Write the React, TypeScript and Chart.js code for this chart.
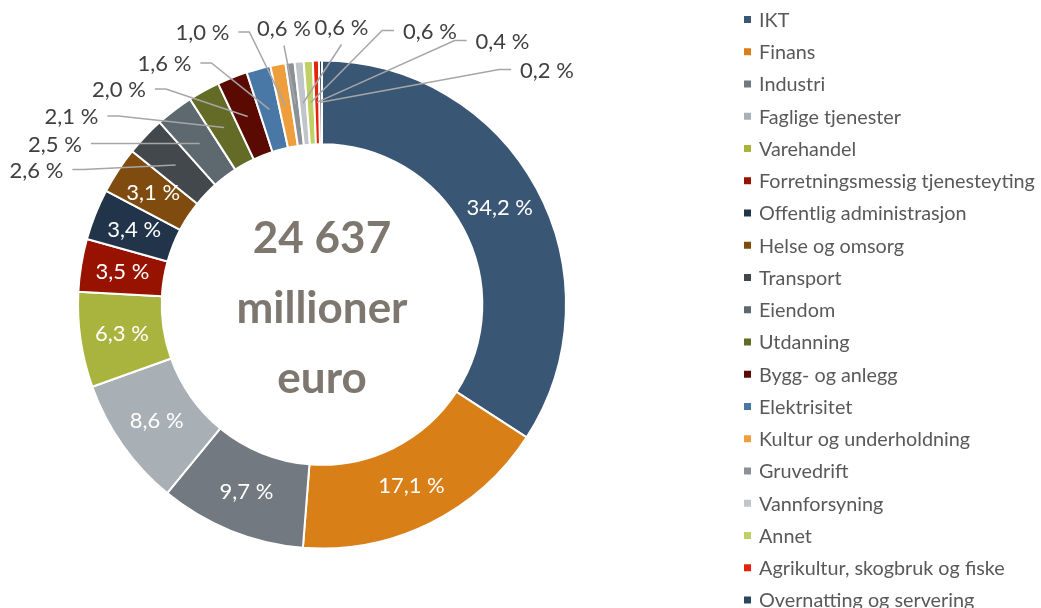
import React, { useEffect, useRef } from 'react';
import { Chart, registerables } from 'chart.js';

Chart.register(...registerables);

// ---- data ----
const categories = [
  'IKT',
  'Finans',
  'Industri',
  'Faglige tjenester',
  'Varehandel',
  'Forretningsmessig tjenesteyting',
  'Offentlig administrasjon',
  'Helse og omsorg',
  'Transport',
  'Eiendom',
  'Utdanning',
  'Bygg- og anlegg',
  'Elektrisitet',
  'Kultur og underholdning',
  'Gruvedrift',
  'Vannforsyning',
  'Annet',
  'Agrikultur, skogbruk og fiske',
  'Overnatting og servering',
];
const shares = [34.2, 17.1, 9.7, 8.6, 6.3, 3.5, 3.4, 3.1, 2.6, 2.5, 2.1, 2.0, 1.6, 1.0, 0.6, 0.6, 0.6, 0.4, 0.2];
const centerLines = ['24 637', 'millioner', 'euro'];

// ---- styles ----
const sliceColors = [
  '#3A5675', '#D97F17', '#727980', '#A8AFB5', '#A9B43F', '#981200', '#22344A',
  '#7F4B0E', '#43484D', '#5E686F', '#636B26', '#5A0A00', '#4A78A6', '#EE9E3C',
  '#8C9197', '#C0C5CA', '#BFD066', '#E6230A', '#2B4662',
];

// outside label placement (offset of label centre from doughnut centre, and line side)
const outsidePlacement: Record<number, { dx: number; dy: number; side: 'left' | 'right' | 'below' }> = {
  8: { dx: -285.5, dy: -134, side: 'left' },
  9: { dx: -267, dy: -160, side: 'left' },
  10: { dx: -250.5, dy: -187.5, side: 'left' },
  11: { dx: -203, dy: -214.5, side: 'left' },
  12: { dx: -157.5, dy: -240.5, side: 'left' },
  13: { dx: -119.5, dy: -271.5, side: 'left' },
  14: { dx: -38, dy: -276, side: 'below' },
  15: { dx: 19.5, dy: -277, side: 'below' },
  16: { dx: 108, dy: -273, side: 'right' },
  17: { dx: 180.5, dy: -263, side: 'right' },
  18: { dx: 225, dy: -234, side: 'right' },
};

const FONT = 'Lato, "Open Sans", sans-serif';
const fmt = (v: number) => v.toFixed(1).replace('.', ',') + ' %';

const labelPlugin = {
  id: 'sliceLabels',
  afterDatasetsDraw(chart: any) {
    const ctx: CanvasRenderingContext2D = chart.ctx;
    const meta = chart.getDatasetMeta(0);
    const data = chart.data.datasets[0].data as number[];
    ctx.save();
    meta.data.forEach((arc: any, i: number) => {
      const p = arc.getProps(['x', 'y', 'startAngle', 'endAngle', 'innerRadius', 'outerRadius'], true);
      const mid = (p.startAngle + p.endAngle) / 2;
      const r = (p.innerRadius + p.outerRadius) / 2;
      const px = p.x + Math.cos(mid) * r;
      const py = p.y + Math.sin(mid) * r;
      const text = fmt(data[i]);
      const place = outsidePlacement[i];
      ctx.font = `22px ${FONT}`;
      ctx.textBaseline = 'middle';
      ctx.textAlign = 'center';
      if (!place) {
        ctx.fillStyle = '#FFFFFF';
        ctx.fillText(text, px, py);
        return;
      }
      const lx = p.x + place.dx;
      const ly = p.y + place.dy;
      const w = ctx.measureText(text).width;
      ctx.strokeStyle = '#A6A6A6';
      ctx.lineWidth = 1.5;
      ctx.beginPath();
      if (place.side === 'left') {
        const sx = lx + w / 2 + 9;
        ctx.moveTo(sx, ly - 1);
        ctx.lineTo(sx + 11, ly - 1);
      } else if (place.side === 'right') {
        const sx = lx - w / 2 - 9;
        ctx.moveTo(sx, ly - 1);
        ctx.lineTo(sx - 12, ly - 1);
      } else {
        ctx.moveTo(lx, ly + 17);
      }
      ctx.lineTo(px, py);
      ctx.stroke();
      ctx.fillStyle = '#404040';
      ctx.fillText(text, lx, ly);
    });

    // centre text
    const c = meta.data[0];
    const cx = c.x;
    const cy = c.y;
    ctx.fillStyle = '#7E776F';
    ctx.font = `bold 44px ${FONT}`;
    ctx.textAlign = 'center';
    ctx.textBaseline = 'alphabetic';
    const offs = [-52, 18, 88];
    centerLines.forEach((t, k) => ctx.fillText(t, cx, cy + offs[k]));
    ctx.restore();
  },
  afterDraw(chart: any) {
    const ctx: CanvasRenderingContext2D = chart.ctx;
    const labels = chart.data.labels as string[];
    const cols = chart.data.datasets[0].backgroundColor as string[];
    ctx.save();
    ctx.font = `19.8px ${FONT}`;
    ctx.textBaseline = 'middle';
    ctx.textAlign = 'left';
    labels.forEach((lab, i) => {
      const y = 19.5 + i * 32.25;
      ctx.fillStyle = cols[i];
      ctx.fillRect(744, y - 3.5, 7, 7);
      ctx.fillStyle = '#595959';
      ctx.fillText(lab, 759, y + 1);
    });
    ctx.restore();
  },
};

export default function App() {
  const ref = useRef<HTMLCanvasElement | null>(null);
  useEffect(() => {
    if (!ref.current) return;
    const chart = new Chart(ref.current, {
      type: 'doughnut',
      data: {
        labels: categories,
        datasets: [
          {
            data: shares,
            backgroundColor: sliceColors,
            borderColor: '#FFFFFF',
            borderWidth: 2,
            hoverOffset: 0,
            offset: 0,
            radius: 244,
          } as any,
        ],
      },
      options: {
        animation: false,
        responsive: false,
        cutout: '65.7%',
        layout: { padding: { left: 80, right: 477, top: 61, bottom: 60 } },
        plugins: {
          legend: { display: false },
          tooltip: { enabled: false },
        },
      } as any,
      plugins: [labelPlugin],
    });
    return () => chart.destroy();
  }, []);
  return (
    <div style={{ position: 'fixed', left: 0, top: 0, width: 1041, height: 608, background: '#fff' }}>
      <canvas ref={ref} width={1041} height={608} style={{ display: 'block' }} />
    </div>
  );
}
